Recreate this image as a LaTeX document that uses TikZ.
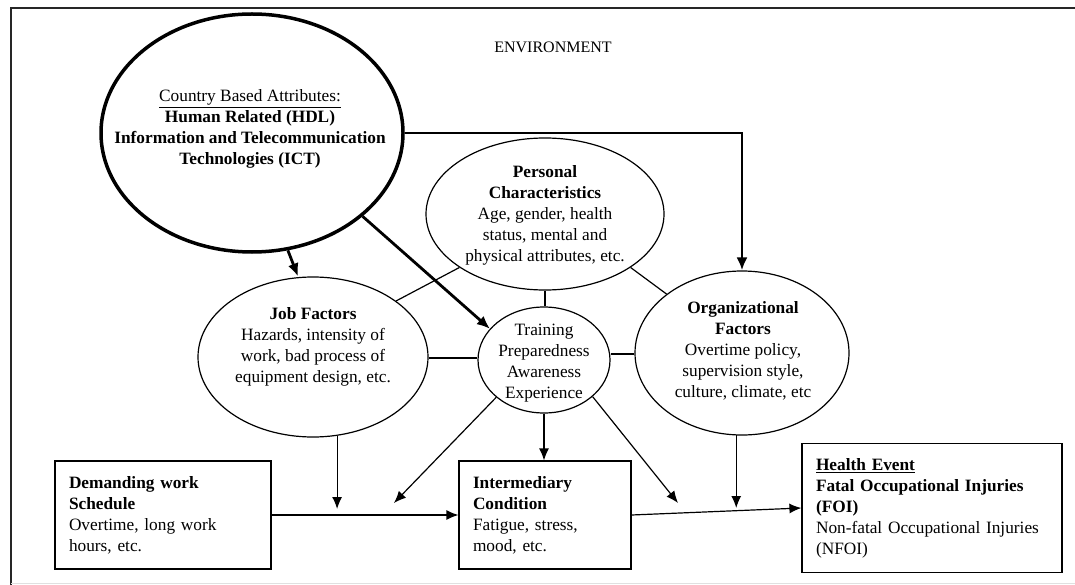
\documentclass[tikz,border=0pt]{standalone}
\usepackage{fontspec}
\setmainfont{Liberation Serif}
\usetikzlibrary{shapes.geometric,arrows.meta,calc}
\tikzset{
  thin line/.style={line width=1.2pt},
  thick line/.style={line width=2.8pt},
  arr/.style={thin line,-{Latex[length=12pt,width=10pt]}},
  thickarr/.style={thick line,-{Latex[length=13pt,width=11pt]}},
  ell/.style={draw,ellipse,thin line,inner sep=0pt},
  lbl/.style={align=center,inner sep=0pt,font=\fontsize{17.3}{21}\selectfont},
  boxnode/.style={draw,thin line,rectangle,inner xsep=14pt,inner ysep=0pt,align=left,
    font=\fontsize{17.3}{21}\selectfont},
}
\begin{document}
\begin{tikzpicture}[x=1pt,y=-1pt]
\useasboundingbox (0,0) rectangle (1075,585);
% frame
\draw[line width=2pt,black!85] (1075,8.5) -- (11,8.5) -- (11,585);
\draw[line width=1pt,black!12] (11,583) -- (1075,583);

\node[lbl,font=\fontsize{16}{19}\selectfont] (env) at (553,47) {ENVIRONMENT};

% ellipses
\node[ell,line width=3.5pt,minimum width=302pt,minimum height=238pt] (country) at (252,133) {};
\node[lbl] (countryt) at (250,129) {\underline{Country Based Attributes:}\\\textbf{Human Related (HDL)}\\\textbf{Information and Telecommunication}\\\textbf{Technologies (ICT)}};

\node[ell,minimum width=238pt,minimum height=152pt] (pers) at (545,214) {};
\node[lbl] (perst) at (545,215) {\textbf{Personal}\\\textbf{Characteristics}\\Age, gender, health\\status, mental and\\physical attributes, etc.};

\node[ell,minimum width=230pt,minimum height=160pt] (job) at (313,357) {};
\node[lbl] (jobt) at (313,346.5) {\textbf{Job Factors}\\Hazards, intensity of\\work, bad process of\\equipment design, etc.};

\node[ell,minimum width=132pt,minimum height=106pt] (train) at (544,360) {};
\node[lbl] (traint) at (544,363.5) {Training\\Preparedness\\Awareness\\Experience};

\node[ell,minimum width=214pt,minimum height=164pt] (org) at (742,353) {};
\node[lbl] (orgt) at (743,351) {\textbf{Organizational}\\\textbf{Factors}\\Overtime policy,\\supervision style,\\culture, climate, etc};

% boxes
\node[boxnode,minimum width=216pt,minimum height=108pt,text width=188pt] (dem) at (163,515)
  {\textbf{Demanding work}\\\textbf{Schedule}\\Overtime, long work\\hours, etc.};
\node[boxnode,minimum width=172pt,minimum height=108pt,text width=144pt] (inter) at (545,515)
  {\textbf{Intermediary}\\\textbf{Condition}\\Fatigue, stress,\\mood, etc.};
\node[boxnode,minimum width=260pt,minimum height=129pt,text width=232pt] (health) at (932,508)
  {\textbf{\underline{Health Event}}\\\textbf{Fatal Occupational Injuries}\\\textbf{(FOI)}\\Non-fatal Occupational Injuries\\(NFOI)};

% free ends of arrows
\coordinate (jobtip) at (337,509);
\coordinate (tlefttip) at (394,503);
\coordinate (trighttip) at (678,503);
\coordinate (orgtip) at (736,508);

% thick arrows from country
\draw[thickarr] (country.east) -| (org.north);
\draw[thickarr] (country.-73) -- (job.north -| 298,0);
\draw[thickarr] (country.-37.9) -- (train.150);

% thin connecting lines
\draw[thin line] (job.34.3) -- (pers.212.4);
\draw[thin line] (pers.-32.7) -- (org.142.8);
\draw[thin line] (pers.south) -- (pers.south |- train.north);
\draw[thin line] (job.east |- 0,358) -- (train.west |- 0,358);
\draw[thin line] (org.west |- 0,354) -- (train.east |- 0,354);

% thin arrows
\draw[arr] (job.-73) -- (job.-73 |- jobtip);
\draw[arr] (train.218) -- (tlefttip);
\draw[arr] (train.-37.4) -- (trighttip);
\draw[arr] (org.-94) -- (org.-94 |- orgtip);
\draw[arr] (train.south) -- (train.south |- inter.north);
\draw[arr] (dem.east) -- (inter.west);
\draw[arr] (inter.east) -- (health.west);
\end{tikzpicture}
\end{document}
